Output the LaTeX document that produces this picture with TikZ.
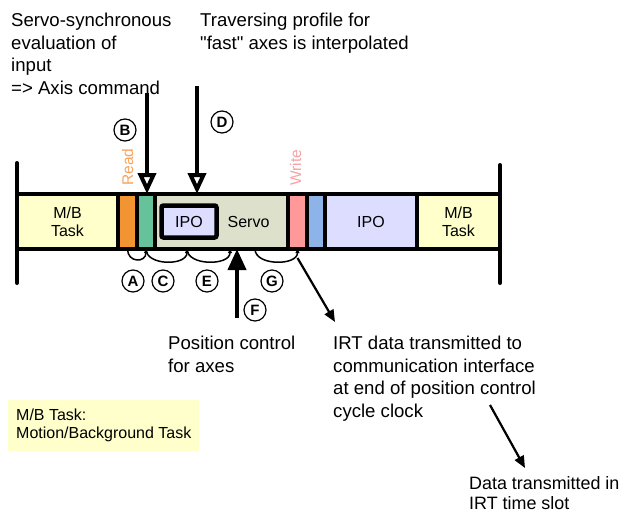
\documentclass[tikz,border=0pt]{standalone}
\usepackage{fontspec}
\setmainfont{Liberation Sans}[Ligatures=TeXOff]
\usetikzlibrary{chains,positioning,arrows.meta}
\definecolor{mbyellow}{HTML}{FFFFCC}
\definecolor{rdorange}{HTML}{F29432}
\definecolor{rdtext}{HTML}{F6A35E}
\definecolor{ingreen}{HTML}{66C29A}
\definecolor{servogrey}{HTML}{DDE0CB}
\definecolor{ipolav}{HTML}{DDDDFF}
\definecolor{wrpink}{HTML}{FF9999}
\definecolor{wrtext}{HTML}{F7A3A3}
\definecolor{outblue}{HTML}{8DB3E8}

\begin{document}
\begin{tikzpicture}[x=1pt, y=1pt, slot/.style={rectangle, draw, line width=4pt,
    outer sep=0pt, inner sep=0pt, minimum height=55pt, align=center,
    font=\fontsize{16}{18}\selectfont},
    tag/.style={circle, draw, line width=1.2pt, minimum size=22pt, inner sep=0pt,
    font=\bfseries\fontsize{15}{15}\selectfont},
    txt/.style={anchor=north west, inner sep=0pt, align=left,
    font=\fontsize{18.6}{22.5}\selectfont},
    fat/.style={line width=4pt, -{Triangle[open,length=21pt,width=18pt]}},
    slim/.style={line width=2.2pt, -{Triangle[length=12pt,width=10pt]}},
    hop/.style={line width=1.5pt, -{Triangle[length=4pt,width=4pt]}},
    start chain, node distance=0pt]
    \useasboundingbox (0,0) rectangle (621,-514);
    \node[slot,on chain,fill=mbyellow,minimum width=101pt] (M1) at (67.5,-221.5) {M/B\\Task};
    \node[slot,on chain,fill=rdorange,minimum width=19pt] (R) {};
    \node[slot,on chain,fill=ingreen,minimum width=18pt] (I) {};
    \node[slot,on chain,fill=servogrey,minimum width=133pt] (S) {};
    \node[slot,on chain,fill=wrpink,minimum width=19pt] (W) {};
    \node[slot,on chain,fill=outblue,minimum width=18pt] (O) {};
    \node[slot,on chain,fill=ipolav,minimum width=92pt] (P) {IPO};
    \node[slot,on chain,fill=mbyellow,minimum width=83pt] (M2) {M/B\\Task};
    \node[font=\fontsize{16}{18}\selectfont] (sv) at ([xshift=27pt]S.center) {Servo};
    \node[draw, line width=4.5pt, fill=ipolav, rounded corners=2pt, minimum width=55pt,
      minimum height=32pt, inner sep=0pt, font=\fontsize{16}{18}\selectfont]
      (ip) at ([xshift=-32.5pt]S.center) {IPO};
    \draw[line width=4pt, line cap=round] ([yshift=31pt]M1.north west) -- ([yshift=-34pt]M1.south west);
    \draw[line width=4pt, line cap=round] ([yshift=29pt]M2.north east) -- ([yshift=-34pt]M2.south east);
    \node[rotate=90, anchor=west, inner sep=0pt, text=rdtext,
      font=\fontsize{15.5}{15.5}\selectfont] (rd) at ([yshift=8pt]R.north) {Read};
    \node[rotate=90, anchor=west, inner sep=0pt, text=wrtext,
      font=\fontsize{15.5}{15.5}\selectfont] (wr) at ([xshift=-2pt,yshift=8pt]W.north) {Write};
    % texts
    \node[txt] (t1) at (11,-13) {Servo-synchronous\\evaluation of\\input\\=> Axis command};
    \node[txt] (t2) at (200,-13) {Traversing profile for\\"fast" axes is interpolated};
    \node[txt] (t3) at (168,-336) {Position control\\for axes};
    \node[txt] (t4) at (333,-336) {IRT data transmitted to\\communication interface\\at end of position control\\cycle clock};
    \node[txt, font=\fontsize{17.9}{20}\selectfont] (t5) at (469,-476) {Data transmitted in\\IRT time slot};
    \node[anchor=north west, fill=mbyellow, inner xsep=8pt, inner ysep=9pt, align=left,
      font=\fontsize{16}{18}\selectfont] (n) at (8,-400) {M/B Task:\\Motion/Background Task};
    % circled letters
    \node[tag] (a) at (133,-281) {A};
    \node[tag] (b) at (125,-130) {B};
    \node[tag] (c) at (163,-281) {C};
    \node[tag] (d) at (222,-122) {D};
    \node[tag] (e) at (207,-281) {E};
    \node[tag] (f) at (255,-310) {F};
    \node[tag] (g) at (272,-281) {G};
    % arrows
    \coordinate (b0) at (147,-93);
    \coordinate (d0) at (197,-86);
    \coordinate (f0) at (237,-318);
    \coordinate (k0) at (490,-405);
    \draw[fat] (b0) -- (b0 |- I.north);
    \draw[fat] (d0) -- (d0 |- S.north);
    \draw[line width=4pt, -{Triangle[length=21pt,width=18pt]}] (f0) -- (f0 |- S.south);
    \draw[slim] ([yshift=-9pt]W.south) -- ([shift={(2pt,14pt)}]t4.north west);
    \draw[slim] (k0) -- ([shift={(56pt,8pt)}]t5.north west);
    \coordinate (s1) at ([xshift=-34.5pt]S.south);
    \coordinate (s2) at ([xshift=8.5pt]S.south);
    \coordinate (s3) at ([xshift=33.5pt]S.south);
    \draw[hop] (R.south) .. controls +(0,-14) and +(0,-14) .. (I.south);
    \draw[hop] (I.south) .. controls +(0,-17) and +(0,-17) .. (s1);
    \draw[hop] (s1) .. controls +(0,-17) and +(0,-17) .. (s2);
    \draw[hop] (s3) .. controls +(0,-17) and +(0,-17) .. (W.south);
\end{tikzpicture}
\end{document}
